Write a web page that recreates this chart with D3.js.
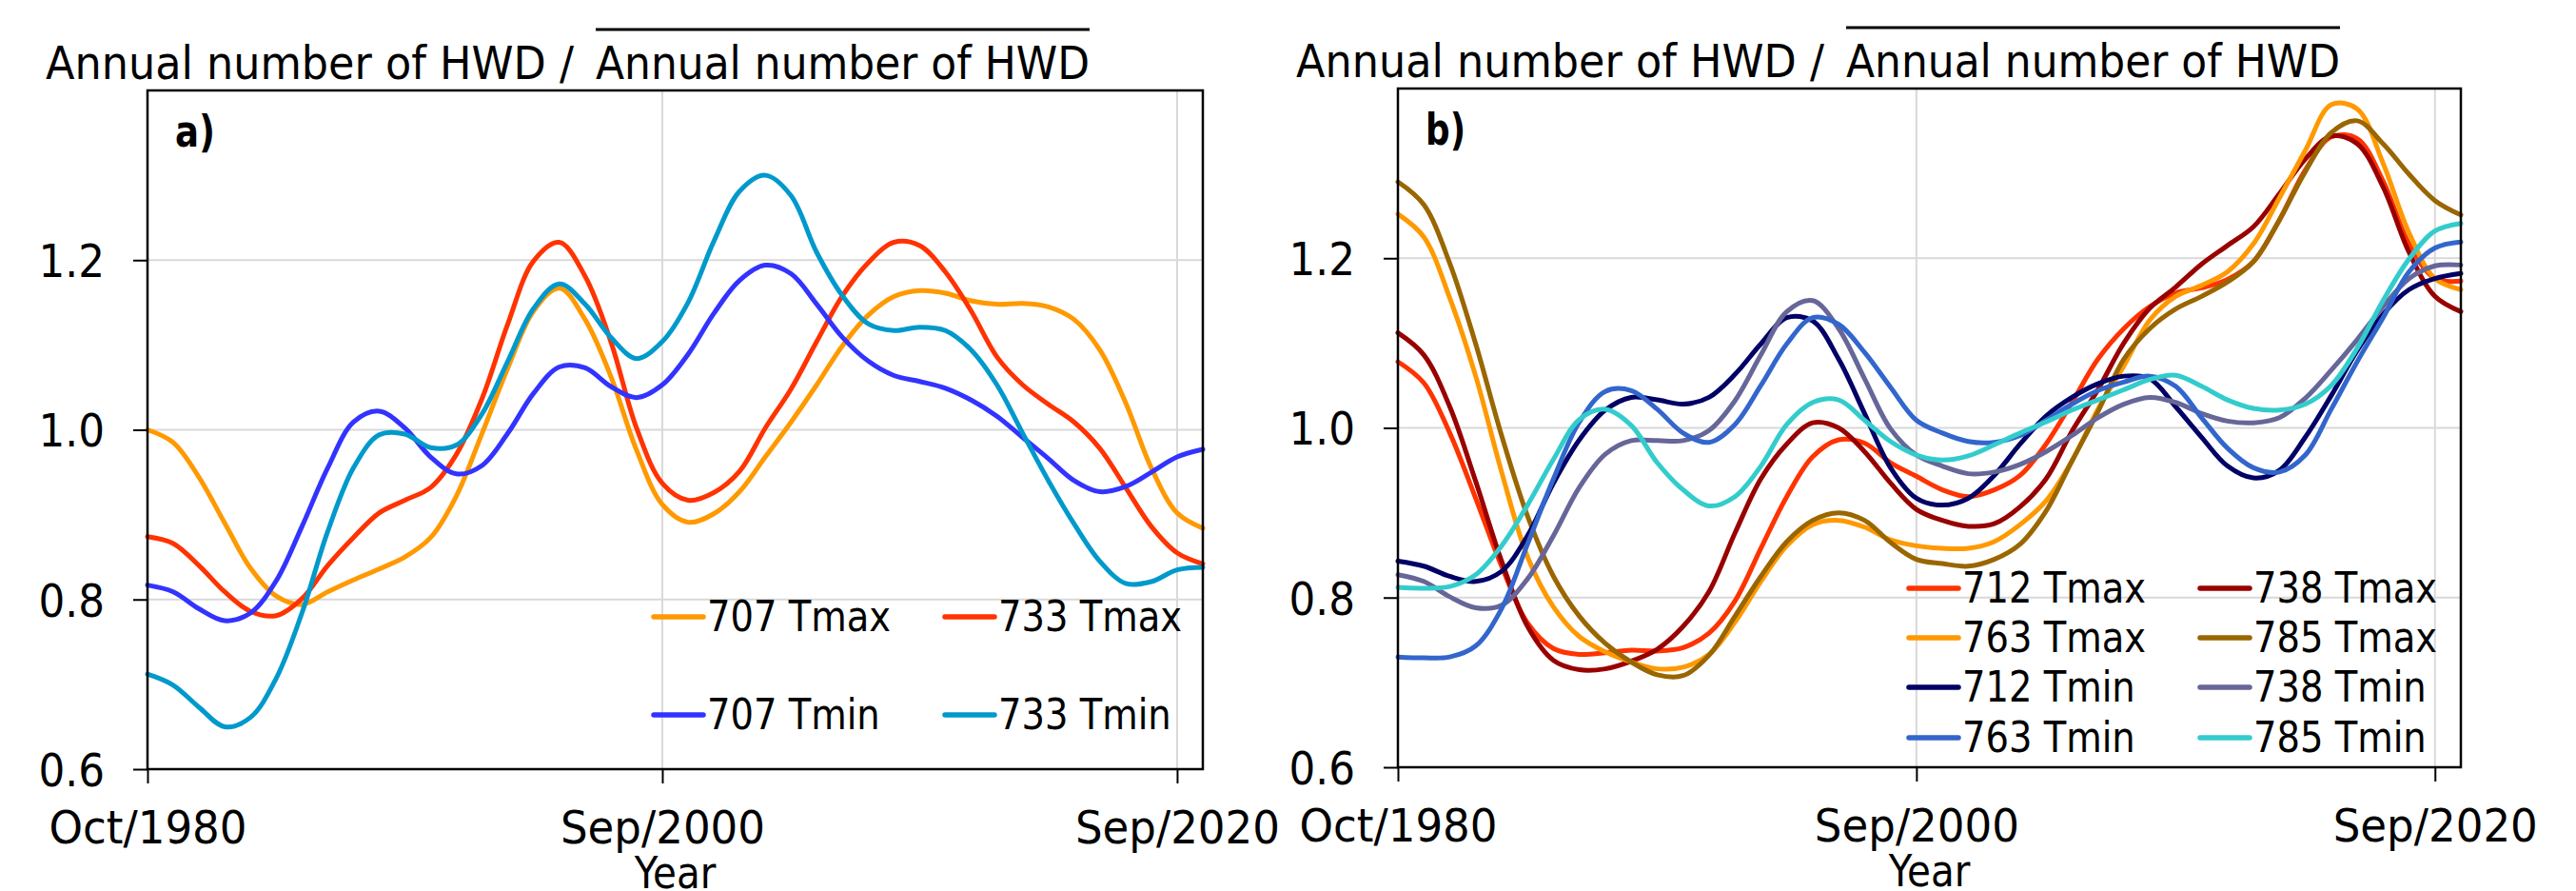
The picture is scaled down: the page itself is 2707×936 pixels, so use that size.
<!DOCTYPE html>
<html>
<head>
<meta charset="utf-8">
<script src="https://cdn.jsdelivr.net/npm/d3@7"></script>
<style>
  body { margin: 0; background: #fff; }
  svg { display: block; }
</style>
</head>
<body>
<svg id="chart" width="2707" height="936"></svg>
<script>
// years after Oct/1980 (hydrological years)
var yearOffset = [0, 1, 2, 3, 4, 5, 6, 7, 8, 9, 10, 11, 12, 13, 14, 15, 16, 17, 18, 19, 20,
                  21, 22, 23, 24, 25, 26, 27, 28, 29, 30, 31, 32, 33, 34, 35, 36, 37, 38, 39, 40, 41];
var xTicks = [0, 20, 40];
var xTickLabels = ["Oct/1980", "Sep/2000", "Sep/2020"];
var yTicks = [0.6, 0.8, 1.0, 1.2];

// panel a) stations 707 and 733
var hwd707Tmax = [1.000, 0.985, 0.944, 0.890, 0.837, 0.804, 0.794, 0.809, 0.823, 0.836, 0.850, 0.873, 0.922, 0.996,
                  1.073, 1.140, 1.167, 1.130, 1.063, 0.976, 0.912, 0.891, 0.901, 0.927, 0.968, 1.009, 1.053, 1.099,
                  1.135, 1.157, 1.164, 1.161, 1.152, 1.148, 1.149, 1.145, 1.130, 1.094, 1.032, 0.955, 0.902, 0.884];
var hwd733Tmax = [0.874, 0.866, 0.840, 0.809, 0.786, 0.781, 0.801, 0.840, 0.873, 0.902, 0.917, 0.932, 0.971, 1.037,
                  1.125, 1.199, 1.221, 1.181, 1.104, 1.002, 0.937, 0.917, 0.926, 0.951, 1.002, 1.048, 1.104, 1.158,
                  1.197, 1.221, 1.217, 1.186, 1.140, 1.086, 1.053, 1.030, 1.009, 0.978, 0.932, 0.886, 0.855, 0.842];
var hwd707Tmin = [0.817, 0.809, 0.789, 0.775, 0.784, 0.822, 0.886, 0.955, 1.009, 1.022, 1.002, 0.968, 0.948, 0.958,
                  0.996, 1.043, 1.074, 1.073, 1.051, 1.038, 1.053, 1.089, 1.137, 1.176, 1.194, 1.184, 1.148, 1.109,
                  1.081, 1.064, 1.057, 1.049, 1.035, 1.016, 0.991, 0.966, 0.940, 0.927, 0.933, 0.950, 0.968, 0.977];
var hwd733Tmin = [0.712, 0.699, 0.673, 0.650, 0.661, 0.707, 0.784, 0.880, 0.955, 0.994, 0.995, 0.979, 0.982, 1.019,
                  1.081, 1.143, 1.172, 1.148, 1.109, 1.084, 1.104, 1.150, 1.222, 1.281, 1.300, 1.276, 1.209, 1.158,
                  1.125, 1.117, 1.121, 1.117, 1.094, 1.053, 0.996, 0.940, 0.889, 0.845, 0.819, 0.821, 0.835, 0.838];

// panel b) stations 712, 738, 763 and 785
var hwd712Tmax = [1.078, 1.053, 0.994, 0.917, 0.837, 0.770, 0.740, 0.733, 0.735, 0.738, 0.737, 0.741, 0.758, 0.796,
                  0.858, 0.919, 0.966, 0.986, 0.982, 0.959, 0.943, 0.927, 0.919, 0.927, 0.944, 0.981, 1.030, 1.081,
                  1.117, 1.143, 1.159, 1.165, 1.175, 1.196, 1.245, 1.304, 1.343, 1.341, 1.291, 1.217, 1.176, 1.173];
var hwd738Tmax = [1.112, 1.086, 1.025, 0.937, 0.843, 0.766, 0.726, 0.715, 0.716, 0.725, 0.739, 0.766, 0.807, 0.876,
                  0.940, 0.981, 1.006, 1.000, 0.972, 0.935, 0.904, 0.891, 0.884, 0.887, 0.907, 0.940, 0.996, 1.045,
                  1.100, 1.141, 1.166, 1.193, 1.215, 1.237, 1.276, 1.317, 1.344, 1.335, 1.284, 1.207, 1.155, 1.137];
var hwd763Tmax = [1.252, 1.225, 1.153, 1.061, 0.948, 0.848, 0.789, 0.754, 0.736, 0.724, 0.716, 0.718, 0.733, 0.771,
                  0.819, 0.861, 0.886, 0.891, 0.883, 0.868, 0.861, 0.858, 0.858, 0.866, 0.886, 0.914, 0.961, 1.022,
                  1.073, 1.127, 1.155, 1.168, 1.184, 1.217, 1.271, 1.327, 1.381, 1.376, 1.312, 1.230, 1.176, 1.163];
var hwd785Tmax = [1.290, 1.263, 1.194, 1.099, 0.991, 0.896, 0.825, 0.778, 0.746, 0.724, 0.709, 0.708, 0.732, 0.778,
                  0.825, 0.866, 0.891, 0.900, 0.891, 0.865, 0.845, 0.840, 0.837, 0.845, 0.863, 0.902, 0.961, 1.019,
                  1.081, 1.117, 1.140, 1.155, 1.172, 1.196, 1.245, 1.302, 1.348, 1.362, 1.335, 1.299, 1.268, 1.251];
var hwd712Tmin = [0.843, 0.837, 0.825, 0.819, 0.831, 0.873, 0.935, 0.986, 1.021, 1.036, 1.033, 1.028, 1.036, 1.063,
                  1.099, 1.130, 1.126, 1.081, 1.017, 0.953, 0.917, 0.909, 0.917, 0.944, 0.981, 1.014, 1.036, 1.052,
                  1.061, 1.058, 1.025, 0.989, 0.955, 0.941, 0.950, 0.989, 1.038, 1.091, 1.134, 1.163, 1.176, 1.182];
var hwd738Tmin = [0.827, 0.819, 0.801, 0.788, 0.791, 0.822, 0.873, 0.930, 0.969, 0.985, 0.985, 0.985, 0.997, 1.032,
                  1.086, 1.137, 1.150, 1.117, 1.058, 0.999, 0.968, 0.955, 0.946, 0.948, 0.957, 0.972, 0.991, 1.012,
                  1.028, 1.036, 1.030, 1.017, 1.008, 1.006, 1.012, 1.035, 1.068, 1.104, 1.143, 1.176, 1.191, 1.192];
var hwd763Tmin = [0.730, 0.729, 0.730, 0.743, 0.787, 0.863, 0.940, 1.007, 1.043, 1.044, 1.022, 0.994, 0.983, 1.004,
                  1.050, 1.099, 1.130, 1.122, 1.089, 1.048, 1.009, 0.994, 0.984, 0.983, 0.991, 1.009, 1.028, 1.044,
                  1.054, 1.061, 1.049, 1.012, 0.976, 0.953, 0.948, 0.968, 1.022, 1.078, 1.130, 1.184, 1.212, 1.219];
var hwd785Tmin = [0.812, 0.811, 0.813, 0.827, 0.861, 0.909, 0.963, 1.010, 1.022, 1.003, 0.959, 0.927, 0.908, 0.919,
                  0.955, 1.004, 1.030, 1.033, 1.009, 0.984, 0.968, 0.962, 0.967, 0.980, 0.994, 1.007, 1.021, 1.033,
                  1.045, 1.057, 1.062, 1.049, 1.033, 1.023, 1.021, 1.028, 1.050, 1.094, 1.150, 1.199, 1.232, 1.241];

var namesA = ["707 Tmax", "733 Tmax", "707 Tmin", "733 Tmin"];
var valuesA = [hwd707Tmax, hwd733Tmax, hwd707Tmin, hwd733Tmin];
var colorsA = ["#ff9900", "#ff3300", "#3333ff", "#0099cc"];

var namesB = ["712 Tmax", "738 Tmax", "763 Tmax", "785 Tmax", "712 Tmin", "738 Tmin", "763 Tmin", "785 Tmin"];
var valuesB = [hwd712Tmax, hwd738Tmax, hwd763Tmax, hwd785Tmax, hwd712Tmin, hwd738Tmin, hwd763Tmin, hwd785Tmin];
var colorsB = ["#ff3300", "#990000", "#ff9900", "#996600", "#000066", "#666699", "#3366cc", "#33cccc"];

var FONT = '"DejaVu Sans", Verdana, sans-serif';
var svg = d3.select("#chart");
svg.append("rect").attr("width", 2707).attr("height", 936).attr("fill", "#fff");

// The original font is narrow, so squeeze each text horizontally by k.
function squeeze(sel, k) {
  sel.each(function () {
    var w = this.getComputedTextLength();
    d3.select(this).attr("textLength", w * k).attr("lengthAdjust", "spacingAndGlyphs");
  });
}

// Draws one panel: grid, lines, frame, axes, title, tag and legend.
function drawPanel(box, names, values, colors, tag, legend) {
  var g = svg.append("g");
  var x = d3.scaleLinear().domain([0, 41]).range([box.left, box.right]);
  var y = d3.scaleLinear().domain([0.6, 1.4]).range([box.bottom, box.top]);

  // grid
  g.append("g").selectAll("line")
    .data(yTicks.filter(function (d) { return d > 0.6; }))
    .join("line")
    .attr("x1", box.left).attr("x2", box.right)
    .attr("y1", function (d) { return y(d); }).attr("y2", function (d) { return y(d); })
    .attr("stroke", "#d9d9d9").attr("stroke-width", 2);
  g.append("g").selectAll("line")
    .data(xTicks.filter(function (d) { return d > 0; }))
    .join("line")
    .attr("x1", function (d) { return x(d); }).attr("x2", function (d) { return x(d); })
    .attr("y1", box.top).attr("y2", box.bottom)
    .attr("stroke", "#d9d9d9").attr("stroke-width", 2);

  // series
  var line = d3.line()
    .x(function (d, i) { return x(yearOffset[i]); })
    .y(function (d) { return y(d); })
    .curve(d3.curveCatmullRom.alpha(0.5));
  values.forEach(function (vals, i) {
    g.append("path")
      .attr("d", line(vals))
      .attr("fill", "none")
      .attr("stroke", colors[i])
      .attr("stroke-width", 5)
      .attr("stroke-linejoin", "round")
      .attr("stroke-linecap", "round");
  });

  // frame
  g.append("rect")
    .attr("x", box.left).attr("y", box.top)
    .attr("width", box.right - box.left).attr("height", box.bottom - box.top)
    .attr("fill", "none").attr("stroke", "#000").attr("stroke-width", 2.5);

  // axes
  var yAxis = d3.axisLeft(y).tickValues(yTicks).tickFormat(d3.format(".1f"))
    .tickSize(15).tickPadding(30);
  g.append("g").attr("transform", "translate(" + box.left + ",0)").call(yAxis)
    .attr("font-size", 48).attr("font-family", FONT)
    .call(function (a) { a.select(".domain").remove(); })
    .call(function (a) { a.selectAll(".tick line").attr("stroke", "#000").attr("stroke-width", 2); })
    .call(function (a) { a.selectAll(".tick text").attr("dy", "0.36em").attr("fill", "#000"); })
    .call(function (a) { squeeze(a.selectAll(".tick text"), 0.91); });

  var xAxis = d3.axisBottom(x).tickValues(xTicks)
    .tickFormat(function (d, i) { return xTickLabels[i]; })
    .tickSize(15);
  g.append("g").attr("transform", "translate(0," + box.bottom + ")").call(xAxis)
    .attr("font-size", 48).attr("font-family", FONT)
    .call(function (a) { a.select(".domain").remove(); })
    .call(function (a) { a.selectAll(".tick line").attr("stroke", "#000").attr("stroke-width", 2); })
    .call(function (a) { a.selectAll(".tick text").attr("y", 78).attr("dy", 0).attr("fill", "#000"); })
    .call(function (a) { squeeze(a.selectAll(".tick text"), 0.94); });

  var yearLabel = g.append("text")
    .attr("x", (box.left + box.right) / 2).attr("y", box.bottom + 125)
    .attr("text-anchor", "middle")
    .attr("font-family", FONT).attr("font-size", 46)
    .text("Year");
  squeeze(yearLabel, 0.88);

  // title with overlined mean
  g.append("text")
    .attr("x", box.left - 107).attr("y", box.top - 12)
    .attr("font-family", FONT).attr("font-size", 48)
    .attr("textLength", 555).attr("lengthAdjust", "spacingAndGlyphs")
    .text("Annual number of HWD /");
  g.append("text")
    .attr("x", box.left + 471).attr("y", box.top - 12)
    .attr("font-family", FONT).attr("font-size", 48)
    .attr("textLength", 519).attr("lengthAdjust", "spacingAndGlyphs")
    .text("Annual number of HWD");
  g.append("line")
    .attr("x1", box.left + 471).attr("x2", box.left + 990)
    .attr("y1", box.top - 64).attr("y2", box.top - 64)
    .attr("stroke", "#000").attr("stroke-width", 3);

  // panel tag
  g.append("text")
    .attr("x", box.left + 29).attr("y", box.top + 59)
    .attr("font-family", FONT).attr("font-size", 46).attr("font-weight", "bold")
    .attr("textLength", 42).attr("lengthAdjust", "spacingAndGlyphs")
    .text(tag);

  // legend
  var items = g.append("g").selectAll("g")
    .data(names)
    .join("g")
    .attr("transform", function (d, i) {
      var cx = box.left + legend.cols[i % 2];
      var cy = box.top + legend.rows[Math.floor(i / 2)];
      return "translate(" + cx + "," + cy + ")";
    });
  items.append("line")
    .attr("x1", 0).attr("x2", 52).attr("y1", 0).attr("y2", 0)
    .attr("stroke", function (d, i) { return colors[i]; })
    .attr("stroke-width", 5.5)
    .attr("stroke-linecap", "round");
  var labels = items.append("text")
    .attr("x", 56).attr("y", 15)
    .attr("font-family", FONT).attr("font-size", 45)
    .text(function (d) { return d; });
  squeeze(labels, 0.855);
}

drawPanel({ left: 155, right: 1264, top: 95, bottom: 808 },
  namesA, valuesA, colorsA, "a)",
  { cols: [532, 838], rows: [553, 656] });

drawPanel({ left: 1469, right: 2586, top: 93, bottom: 806 },
  namesB, valuesB, colorsB, "b)",
  { cols: [537, 843], rows: [525, 577, 629, 682] });
</script>
</body>
</html>
